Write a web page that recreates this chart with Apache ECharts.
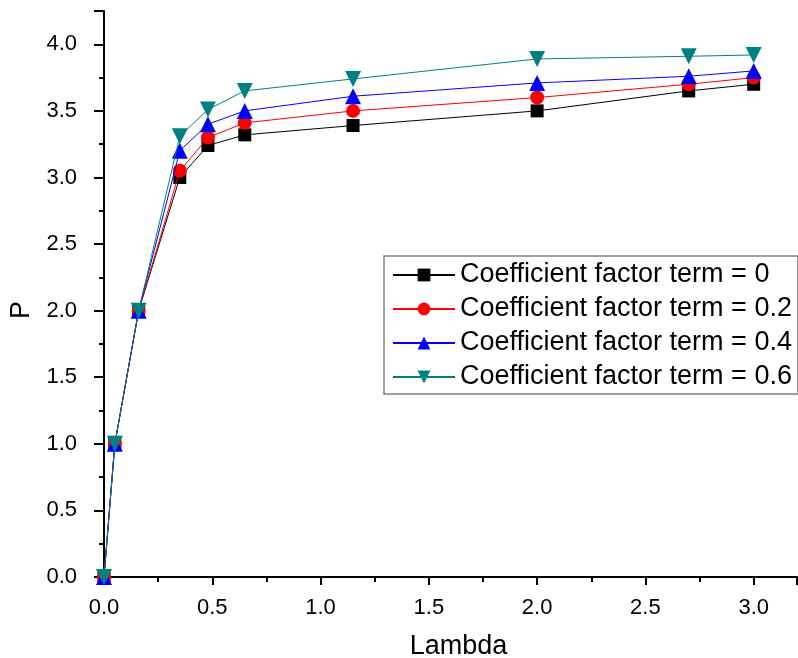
<!DOCTYPE html>
<html>
<head>
<meta charset="utf-8">
<script src="https://cdn.jsdelivr.net/npm/echarts@6/dist/echarts.min.js"></script>
<style>
  html, body { margin: 0; padding: 0; background: #fff; }
  #chart { width: 798px; height: 658px; }
</style>
</head>
<body>
<div id="chart"></div>
<script>
const lambda = [0, 0.05, 0.16, 0.35, 0.48, 0.65, 1.15, 2.0, 2.7, 3.0];
const seriesNames = [
  'Coefficient factor term = 0',
  'Coefficient factor term = 0.2',
  'Coefficient factor term = 0.4',
  'Coefficient factor term = 0.6'
];
const p0 = [0, 1, 2, 3.0, 3.24, 3.32, 3.39, 3.50, 3.65, 3.70];
const p02 = [0, 1, 2, 3.05, 3.30, 3.41, 3.50, 3.60, 3.70, 3.75];
const p04 = [0, 1, 2, 3.20, 3.40, 3.50, 3.61, 3.71, 3.76, 3.80];
const p06 = [0, 1, 2, 3.31, 3.51, 3.65, 3.74, 3.89, 3.91, 3.92];

const colors = ['#000000', '#ff0000', '#0000ff', '#008080'];
const symbols = ['rect', 'circle', 'triangle', 'triangle'];
const sizes = [13, 14, 16, 16];
const rotates = [0, 0, 0, 180];

const chart = echarts.init(document.getElementById('chart'));
const font = '"Liberation Sans", Arial, sans-serif';
const fmt = v => v.toFixed(1);

function pairs(ys) {
  return lambda.map((x, i) => [x, ys[i]]);
}

const allData = [p0, p02, p04, p06];

const option = {
  animation: false,
  backgroundColor: '#fff',
  grid: { left: 104, right: 1, top: 11, bottom: 81, containLabel: false, outerBoundsMode: 'none' },
  legend: {
    data: seriesNames,
    orient: 'vertical',
    left: 384,
    top: 256,
    padding: [4, 6, 2, 8],
    itemGap: 4,
    itemWidth: 62,
    itemHeight: 16,
    borderColor: '#808080',
    borderWidth: 1.5,
    borderRadius: 0,
    textStyle: { fontFamily: font, fontSize: 27, color: '#000', lineHeight: 30 }
  },
  xAxis: [
    {
      type: 'value',
      min: 0,
      max: 3.2,
      interval: 0.5,
      name: 'Lambda',
      nameLocation: 'middle',
      nameGap: 56,
      nameTextStyle: { fontFamily: font, fontSize: 27, color: '#000', padding: [0, 0, 0, 16] },
      axisLine: { show: true, onZero: false, lineStyle: { color: '#000', width: 2 } },
      axisTick: { show: true, inside: false, length: 8, lineStyle: { color: '#000', width: 2 } },
      minorTick: { show: true, splitNumber: 2, length: 5, lineStyle: { color: '#000', width: 2 } },
      axisLabel: { fontFamily: font, fontSize: 22, color: '#000', margin: 20, formatter: fmt, showMaxLabel: false },
      splitLine: { show: false }
    },
    {
      type: 'value',
      position: 'top',
      min: 0,
      max: 3.2,
      axisLine: { show: true, lineStyle: { color: '#000', width: 2 } },
      axisTick: { show: false },
      axisLabel: { show: false },
      splitLine: { show: false }
    }
  ],
  yAxis: {
    type: 'value',
    min: 0,
    max: 4.25,
    interval: 0.5,
    name: 'P',
    nameLocation: 'middle',
    nameGap: 66,
    nameRotate: 90,
    nameTextStyle: { fontFamily: font, fontSize: 27, color: '#000', padding: [0, 32, 0, 0] },
    axisLine: { show: true, onZero: false, lineStyle: { color: '#000', width: 2 } },
    axisTick: { show: true, inside: false, length: 10, lineStyle: { color: '#000', width: 2 } },
    minorTick: { show: true, splitNumber: 2, length: 5, lineStyle: { color: '#000', width: 2 } },
    axisLabel: { fontFamily: font, fontSize: 22, color: '#000', margin: 27, formatter: fmt, showMaxLabel: false },
    splitLine: { show: false }
  },
  series: seriesNames.map((name, i) => ({
    name: name,
    type: 'line',
    data: pairs(allData[i]),
    color: colors[i],
    symbol: symbols[i],
    symbolSize: sizes[i],
    symbolRotate: rotates[i],
    showAllSymbol: true,
    lineStyle: { width: 1, color: colors[i] },
    itemStyle: { color: colors[i] },
    z: 2 + i
  }))
};

chart.setOption(option);
</script>
</body>
</html>
